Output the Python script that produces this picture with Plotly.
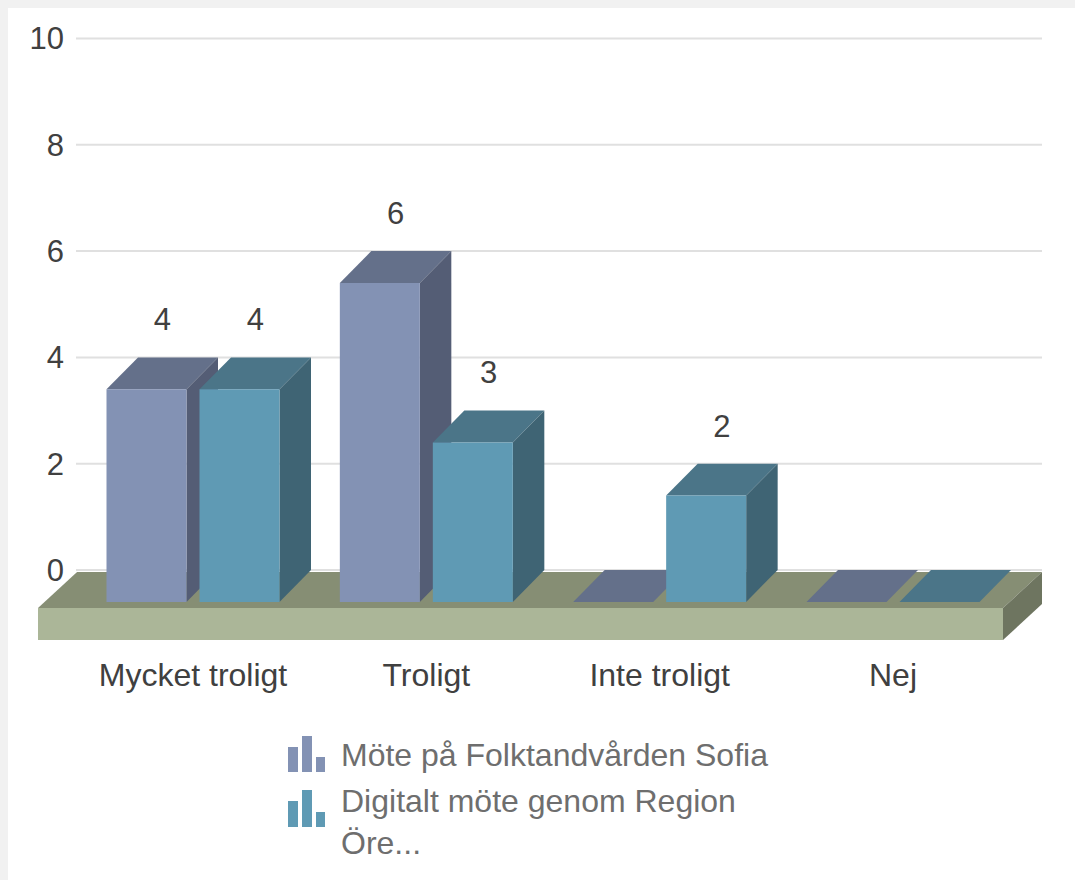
import plotly.graph_objects as go

categories = ["Mycket troligt", "Troligt", "Inte troligt", "Nej"]
series_a_name = "Möte på Folktandvården Sofia"
series_b_name = "Digitalt möte genom Region<br>Öre..."
series_a = [4, 6, 0, 0]
series_b = [4, 3, 2, 0]
y_ticks = [0, 2, 4, 6, 8, 10]

W, H = 1075, 880
PL, PR, PT, PB = 38, 1042, 20, 640      # plot area in page pixels
X0_PX, X_UNIT = 193.0, 233.33           # pixel of category 0, pixels per category
Y0_PX, Y_UNIT = 570.0, 53.15            # pixel of value 0, pixels per value
FONT = "Liberation Sans"

def ux(px): return (px - X0_PX) / X_UNIT
def uy(px): return (Y0_PX - px) / Y_UNIT
def px_x(px): return (px - PL) / (PR - PL)
def px_y(px): return (PB - px) / (PB - PT)

DX = 31.5 / X_UNIT       # depth of the fake 3D, in axis units
DY = 0.6
BAR_W = 80 / X_UNIT
BAR_OFF = 46.5 / X_UNIT

fig = go.Figure()

def poly(xs, ys, color, z):
    fig.add_trace(go.Scatter(x=xs + xs[:1], y=ys + ys[:1], mode="lines", fill="toself",
                             fillcolor=color, line=dict(width=0, color=color),
                             hoverinfo="skip", showlegend=False, zorder=z))

# wall gridlines
gx, gy = [], []
for t in y_ticks:
    gx += [ux(76), ux(PR), None]
    gy += [t, t, None]
fig.add_trace(go.Scatter(x=gx, y=gy, mode="lines", line=dict(color="#e0e0e0", width=2),
                         hoverinfo="skip", showlegend=False, zorder=0))

# floor slab
fl, fr = ux(PL), ux(1003)
ftop, fbot, fback = uy(608), uy(PB), uy(572)
poly([fl, fr, fr + DX * 1.24, fl + DX * 1.24], [ftop, ftop, fback, fback], "#868e74", 0)
poly([fl, fr, fr, fl], [ftop, ftop, fbot, fbot], "#abb698", 0)
poly([fr, fr + DX * 1.24, fr + DX * 1.24, fr], [ftop, fback, fback - (ftop - fbot), fbot], "#6e7560", 0)

def bar_series(values, name, sign, front, top, side, z):
    for i, v in enumerate(values):
        l = i + sign * BAR_OFF - BAR_W / 2
        r = l + BAR_W
        t = v - DY
        poly([l, r, r + DX, l + DX], [t, t, v, v], top, z)
        if v > 0:
            poly([r, r + DX, r + DX, r], [t, v, 0, -DY], side, z)
    fig.add_trace(go.Bar(x=[i + sign * BAR_OFF for i in range(len(values))], y=values,
                         base=-DY, width=BAR_W, marker=dict(color=front, line=dict(width=0)),
                         name=name, showlegend=False, zorder=z + 1))

bar_series(series_a, series_a_name, -1, "#8392b4", "#64708a", "#545d75", 1)
bar_series(series_b, series_b_name, 1, "#5f9ab4", "#4b7588", "#3f6474", 3)

# value labels
lx, ly, lt = [], [], []
for sign, vals in ((-1, series_a), (1, series_b)):
    for i, v in enumerate(vals):
        if v > 0:
            lx.append(i + sign * BAR_OFF + DX / 2)
            ly.append(v + 0.655)
            lt.append(str(v))
fig.add_trace(go.Scatter(x=lx, y=ly, text=lt, mode="text", textposition="middle center",
                         textfont=dict(family=FONT, size=31, color="#404040"),
                         hoverinfo="skip", showlegend=False, zorder=6))

shapes = [dict(type="rect", xref="paper", yref="paper", x0=px_x(8), x1=px_x(W), y0=px_y(H), y1=px_y(8),
               fillcolor="white", line=dict(width=0), layer="below")]

# legend
def icon(color, bottom, heights):
    for (a, b), h in zip(((288, 298), (302, 312), (316, 325)), heights):
        shapes.append(dict(type="rect", xref="paper", yref="paper",
                           x0=px_x(a), x1=px_x(b), y0=px_y(bottom), y1=px_y(bottom - h),
                           fillcolor=color, line=dict(width=0), layer="above"))

icon("#8392b4", 772, (25, 36, 15))
icon("#5f9ab4", 827, (26, 37, 15))

annotations = [
    dict(xref="paper", yref="paper", x=px_x(339), y=px_y(755), xanchor="left", yanchor="middle",
         text=series_a_name, showarrow=False, align="left",
         font=dict(family=FONT, size=32, color="#6e6e6e")),
    dict(xref="paper", yref="paper", x=px_x(339), y=px_y(822), xanchor="left", yanchor="middle",
         text=series_b_name, showarrow=False, align="left",
         font=dict(family=FONT, size=32, color="#6e6e6e")),
]

fig.update_layout(
    width=W, height=H, autosize=False,
    margin=dict(l=PL, r=W - PR, t=PT, b=H - PB, pad=0),
    paper_bgcolor="#f1f1f1", plot_bgcolor="rgba(0,0,0,0)",
    barmode="overlay", showlegend=False,
    shapes=shapes, annotations=annotations,
    font=dict(family=FONT, size=31, color="#404040"),
    xaxis=dict(range=[ux(PL), ux(PR)], tickmode="array", tickvals=list(range(len(categories))),
               ticktext=categories, showgrid=False, zeroline=False, showline=False, ticks="",
               ticklabelstandoff=13, automargin=False, fixedrange=True,
               tickfont=dict(family=FONT, size=32, color="#404040")),
    yaxis=dict(range=[uy(PB), uy(PT)], tickmode="array", tickvals=y_ticks, anchor="free",
               position=px_x(76), showgrid=False, zeroline=False, showline=False, ticks="",
               ticklabelstandoff=12, automargin=False, fixedrange=True,
               tickfont=dict(family=FONT, size=31, color="#404040")),
)

fig.write_html("out.html", config=dict(displayModeBar=False),
               post_script="document.body.style.margin='0';")
